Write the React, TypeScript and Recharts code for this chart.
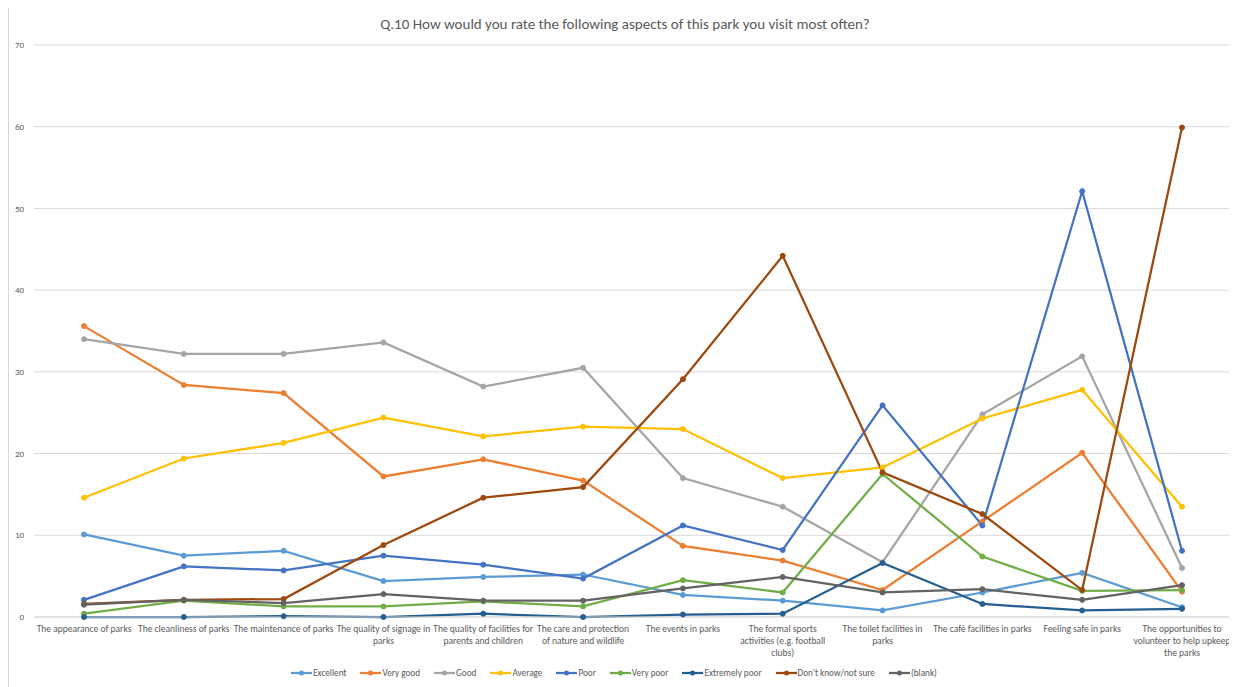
import { CartesianGrid, Line, LineChart, XAxis, YAxis } from 'recharts';

const categories = [
  'The appearance of parks',
  'The cleanliness of parks',
  'The maintenance of parks',
  'The quality of signage in\nparks',
  'The quality of facilities for\nparents and children',
  'The care and protection\nof nature and wildlife',
  'The events in parks',
  'The formal sports\nactivities (e.g. football\nclubs)',
  'The toilet facilities in\nparks',
  'The café facilities in parks',
  'Feeling safe in parks',
  'The opportunities to\nvolunteer to help upkeep\nthe parks',
];

const excellent = [10.1, 7.5, 8.1, 4.4, 4.9, 5.2, 2.7, 2.0, 0.8, 3.0, 5.4, 1.2];
const veryGood = [35.6, 28.4, 27.4, 17.2, 19.3, 16.7, 8.7, 6.9, 3.3, 11.7, 20.1, 3.1];
const good = [34.0, 32.2, 32.2, 33.6, 28.2, 30.5, 17.0, 13.5, 6.7, 24.8, 31.9, 6.0];
const average = [14.6, 19.4, 21.3, 24.4, 22.1, 23.3, 23.0, 17.0, 18.3, 24.3, 27.8, 13.5];
const poor = [2.1, 6.2, 5.7, 7.5, 6.4, 4.7, 11.2, 8.2, 25.9, 11.2, 52.1, 8.1];
const veryPoor = [0.4, 2.0, 1.3, 1.3, 1.9, 1.3, 4.5, 3.0, 17.5, 7.4, 3.2, 3.3];
const extremelyPoor = [0, 0, 0.1, 0, 0.4, 0, 0.3, 0.4, 6.6, 1.6, 0.8, 1.0];
const dontKnow = [1.6, 2.1, 2.2, 8.8, 14.6, 15.9, 29.1, 44.2, 17.7, 12.6, 3.3, 59.9];
const blank = [1.5, 2.1, 1.7, 2.8, 2.0, 2.0, 3.5, 4.9, 3.0, 3.4, 2.1, 3.9];

const yTicks = [0, 10, 20, 30, 40, 50, 60, 70];

const series = [
  { key: 'excellent', name: 'Excellent', color: '#5B9BD5', values: excellent },
  { key: 'veryGood', name: 'Very good', color: '#ED7D31', values: veryGood },
  { key: 'good', name: 'Good', color: '#A5A5A5', values: good },
  { key: 'average', name: 'Average', color: '#FFC000', values: average },
  { key: 'poor', name: 'Poor', color: '#4472C4', values: poor },
  { key: 'veryPoor', name: 'Very poor', color: '#70AD47', values: veryPoor },
  { key: 'extremelyPoor', name: 'Extremely poor', color: '#255E91', values: extremelyPoor },
  { key: 'dontKnow', name: "Don't know/not sure", color: '#9E480E', values: dontKnow },
  { key: 'blank', name: '(blank)', color: '#636363', values: blank },
];

const data = categories.map((category, i) => {
  const row: Record<string, string | number> = { category };
  series.forEach((s) => {
    row[s.key] = s.values[i];
  });
  return row;
});

const FONT = "'Liberation Sans Narrow', 'Arial Narrow', Carlito, Calibri, 'Liberation Sans', sans-serif";
const TEXT = '#595959';

function CategoryTick(props: any) {
  const { x, y, payload } = props;
  const lines = String(payload.value).split('\n');
  return (
    <text x={x} y={y + 7} textAnchor="middle" fill={TEXT} fontSize={9.5} fontFamily={FONT}>
      {lines.map((line, i) => (
        <tspan key={i} x={x} dy={i === 0 ? 0 : 12}>
          {line}
        </tspan>
      ))}
    </text>
  );
}

export default function App() {
  return (
    <div
      style={{
        position: 'relative',
        width: 1232,
        height: 682,
        marginTop: -2,
        border: '1px solid #d9d9d9',
        background: '#fff',
        fontFamily: FONT,
      }}
    >
      <div
        style={{
          position: 'absolute',
          top: 8,
          left: 0,
          width: '100%',
          textAlign: 'center',
          fontSize: 15,
          color: TEXT,
        }}
      >
        Q.10 How would you rate the following aspects of this park you visit most often?
      </div>
      <LineChart
        width={1230}
        height={680}
        data={data}
        margin={{ top: 38, right: 7, bottom: 20, left: 0 }}
      >
        <CartesianGrid vertical={false} stroke="#d9d9d9" />
        <XAxis
          dataKey="category"
          interval={0}
          padding={{ left: 50, right: 50 }}
          tickLine={false}
          axisLine={{ stroke: '#d9d9d9' }}
          height={50}
          tick={<CategoryTick />}
        />
        <YAxis
          domain={[0, 70]}
          ticks={yTicks}
          width={25}
          axisLine={false}
          tickLine={false}
          tickMargin={4}
          tick={{ fontSize: 9, fill: TEXT, fontFamily: FONT }}
        />
        {series.map((s) => (
          <Line
            key={s.key}
            type="linear"
            dataKey={s.key}
            name={s.name}
            stroke={s.color}
            strokeWidth={2.25}
            dot={{ r: 2.5, fill: s.color, stroke: s.color, strokeWidth: 1 }}
            activeDot={false}
            isAnimationActive={false}
          />
        ))}
      </LineChart>
      <div
        style={{
          position: 'absolute',
          top: 660,
          left: 0,
          width: '100%',
          boxSizing: 'border-box',
          paddingRight: 22,
          display: 'flex',
          justifyContent: 'center',
          alignItems: 'center',
          gap: 14,
          fontSize: 9.2,
          color: TEXT,
        }}
      >
        {series.map((s) => (
          <div key={s.key} style={{ display: 'flex', alignItems: 'center' }}>
            <svg width={21} height={8} style={{ marginRight: 1 }}>
              <line x1={0} y1={4} x2={21} y2={4} stroke={s.color} strokeWidth={2.25} />
              <circle cx={10.5} cy={4} r={2.5} fill={s.color} />
            </svg>
            <span>{s.name}</span>
          </div>
        ))}
      </div>
    </div>
  );
}
